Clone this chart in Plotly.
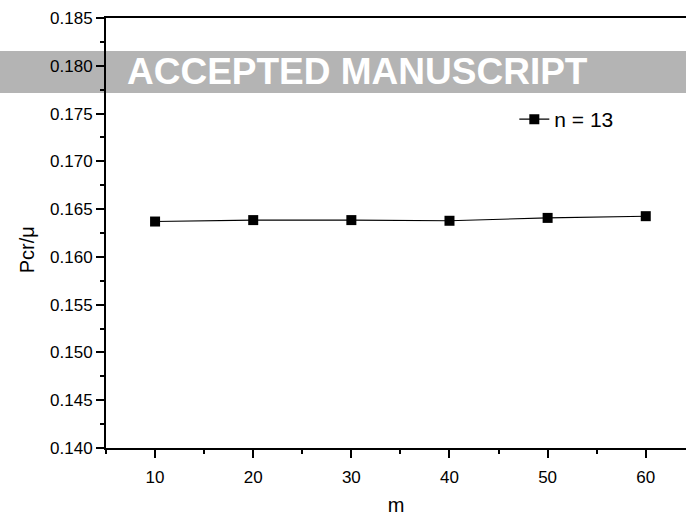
import plotly.graph_objects as go

m_values = [10, 20, 30, 40, 50, 60]
pcr_values = [0.16370, 0.16385, 0.16385, 0.16378, 0.16408, 0.16426]
series_name = "n = 13"
x_ticks = [10, 20, 30, 40, 50, 60]
y_ticks = [0.140, 0.145, 0.150, 0.155, 0.160, 0.165, 0.170, 0.175, 0.180, 0.185]

FONT = "Arial, Liberation Sans, Helvetica, sans-serif"

fig = go.Figure()
fig.add_trace(go.Scatter(
    x=m_values, y=pcr_values, mode="lines+markers", name=series_name,
    line=dict(color="black", width=1.1),
    marker=dict(symbol="square", size=10, color="black"),
))

fig.update_layout(
    width=686, height=520,
    margin=dict(l=106, r=0, t=18, b=72),
    paper_bgcolor="white", plot_bgcolor="rgba(0,0,0,0)",
    font=dict(family=FONT, color="black", size=17),
    showlegend=True,
    legend=dict(x=0.704, y=0.764, xanchor="left", yanchor="middle",
                bgcolor="rgba(0,0,0,0)", font=dict(size=21, family=FONT)),
    xaxis=dict(
        range=[5, 64.1], tickvals=x_ticks, ticktext=[str(v) for v in x_ticks],
        showline=True, linecolor="black", linewidth=2, mirror=True,
        ticks="outside", ticklen=8, tickwidth=1.5, tickcolor="black",
        minor=dict(dtick=5, tick0=5, ticklen=4, tickwidth=1.5, tickcolor="black", ticks="outside"),
        showgrid=False, zeroline=False,
        tickfont=dict(size=17), ticklabelstandoff=5,
        title=dict(text="m", font=dict(size=20), standoff=12),
    ),
    yaxis=dict(
        range=[0.140, 0.185], tickvals=y_ticks, ticktext=[f"{v:.3f}" for v in y_ticks],
        showline=True, linecolor="black", linewidth=2,
        ticks="outside", ticklen=8, tickwidth=1.5, tickcolor="black",
        minor=dict(dtick=0.0025, tick0=0.14, ticklen=4, tickwidth=1.5, tickcolor="black", ticks="outside"),
        showgrid=False, zeroline=False,
        tickfont=dict(size=17),
    ),
)

fig.add_annotation(text="Pcr/μ", xref="paper", yref="paper",
                   x=-0.136, y=0.460, xanchor="center", yanchor="middle",
                   textangle=-90, showarrow=False,
                   font=dict(size=20, color="black", family=FONT))

fig.add_shape(type="rect", xref="paper", yref="y", x0=-0.2, x1=1.05,
              y0=0.17715, y1=0.18155, fillcolor="rgb(180,180,180)",
              line=dict(width=0), layer="below")
fig.add_annotation(text="<b>ACCEPTED MANUSCRIPT</b>", xref="paper", yref="y",
                   x=0.433, y=0.17935, showarrow=False,
                   font=dict(size=37, color="white", family=FONT))

fig.write_html("out.html")
